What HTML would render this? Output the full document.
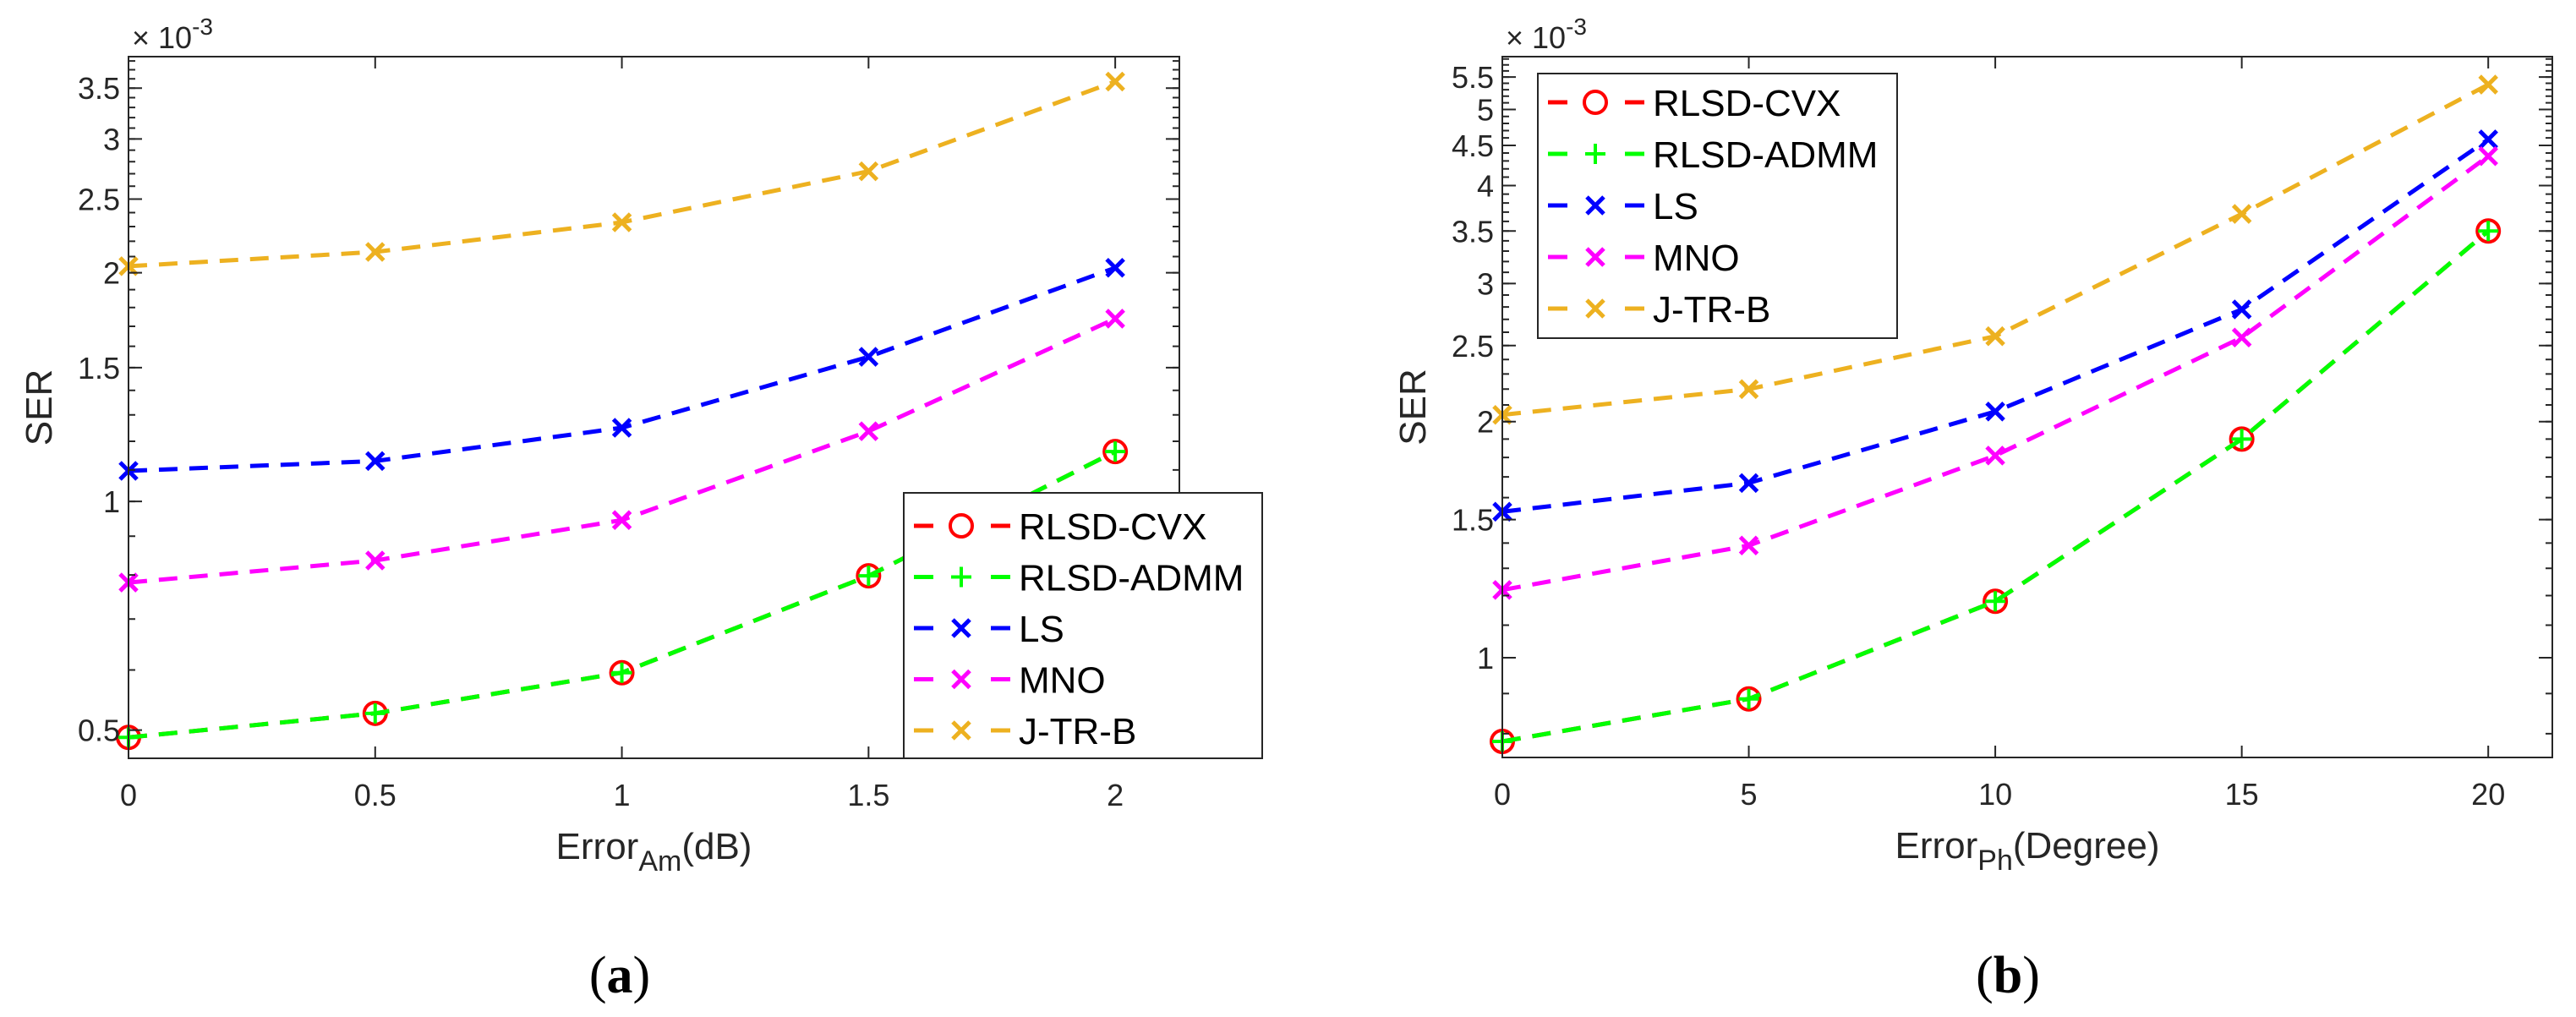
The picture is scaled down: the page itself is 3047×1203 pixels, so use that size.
<!DOCTYPE html>
<html><head><meta charset="utf-8"><style>
html,body{margin:0;padding:0;background:#fff;}
svg{display:block;font-family:"Liberation Sans",Arial,sans-serif;}
</style></head><body>
<svg id="fig" width="3047" height="1203" viewBox="0 0 3047 1203" xmlns="http://www.w3.org/2000/svg"></svg>
<script>
const seriesNames = ["RLSD-CVX","RLSD-ADMM","LS","MNO","J-TR-B"];
const xA = [0,0.5,1,1.5,2];
const cvxA = [0.489,0.526,0.595,0.798,1.163];
const admmA = [0.489,0.526,0.595,0.798,1.163];
const lsA = [1.097,1.13,1.25,1.55,2.03];
const mnoA = [0.782,0.836,0.945,1.237,1.74];
const jtrA = [2.04,2.13,2.33,2.72,3.57];
const xB = [0,5,10,15,20];
const cvxB = [0.782,0.886,1.18,1.90,3.50];
const admmB = [0.782,0.886,1.18,1.90,3.50];
const lsB = [1.535,1.67,2.06,2.78,4.58];
const mnoB = [1.22,1.39,1.81,2.56,4.36];
const jtrB = [2.04,2.20,2.57,3.68,5.38];
const xTicksA = [0,0.5,1,1.5,2];
const xTickLabelsA = ["0","0.5","1","1.5","2"];
const yTicksA = [0.5,1,1.5,2,2.5,3,3.5];
const yTickLabelsA = ["0.5","1","1.5","2","2.5","3","3.5"];
const xTicksB = [0,5,10,15,20];
const xTickLabelsB = ["0","5","10","15","20"];
const yTicksB = [1,1.5,2,2.5,3,3.5,4,4.5,5,5.5];
const yTickLabelsB = ["1","1.5","2","2.5","3","3.5","4","4.5","5","5.5"];

const NS="http://www.w3.org/2000/svg";
const svg=document.getElementById('fig');
function mk(tag,attrs,parent){const e=document.createElementNS(NS,tag);for(const k in attrs)e.setAttribute(k,attrs[k]);(parent||svg).appendChild(e);return e;}
const colors=["#FF0000","#00FF00","#0000FF","#FF00FF","#EDB120"];
const markers=["o","+","x","x","x"];
const AX="#262626";

function marker(g,type,x,y,c){
  if(type==="o"){const m=mk('circle',{cx:x,cy:y,r:13,fill:'none',stroke:c,'stroke-width':4},g);}
  else if(type==="+"){const m=mk('path',{d:`M${x-12},${y}H${x+12}M${x},${y-12}V${y+12}`,stroke:c,'stroke-width':4,fill:'none'},g);}
  else {const m=mk('path',{d:`M${x-10},${y-10}L${x+10},${y+10}M${x-10},${y+10}L${x+10},${y-10}`,stroke:c,'stroke-width':5,fill:'none'},g);}
}

function panel(cfg){
  const {L,R,T,B,xmin,xmax,ymin,ymax,xt,xtl,yt,ytl,series,xs,id,xlabel,sub,cap,leg}=cfg;
  const X=v=>L+(v-xmin)/(xmax-xmin)*(R-L);
  const lmin=Math.log10(ymin),lmax=Math.log10(ymax);
  const Y=v=>B-(Math.log10(v)-lmin)/(lmax-lmin)*(B-T);
  const g=mk('g',{});
  
  
  series.forEach((s,i)=>{
    const sg=mk('g',{},g);
    
    
    const d=s.map((v,j)=>(j?'L':'M')+X(xs[j]).toFixed(1)+','+Y(v).toFixed(1)).join('');
    const p=mk('path',{d:d,fill:'none',stroke:colors[i],'stroke-width':5,'stroke-dasharray':'22 14'},sg);
    
    
    s.forEach((v,j)=>marker(sg,markers[i],X(xs[j]),Y(v),colors[i]));
  });
  const box=mk('rect',{x:L,y:T,width:R-L,height:B-T,fill:'none',stroke:AX,'stroke-width':2},g);
  
  
  xt.forEach((v,i)=>{
    const x=X(v);
    mk('path',{d:`M${x},${B}v-14M${x},${T}v14`,stroke:AX,'stroke-width':2},g);
    const t=mk('text',{x:x,y:B+56,'font-size':36,fill:AX,'text-anchor':'middle'},g);
    t.textContent=xtl[i];
    
    
  });
  for(let k=Math.ceil(ymin*10);k<=Math.floor(ymax*10);k++){
    const v=k/10,y=Y(v);
    mk('path',{d:`M${L},${y}h8M${R},${y}h-8`,stroke:AX,'stroke-width':2},g);
  }
  yt.forEach((v,i)=>{
    const y=Y(v);
    mk('path',{d:`M${L},${y}h16M${R},${y}h-16`,stroke:AX,'stroke-width':2},g);
    const t=mk('text',{x:L-10,y:y+13,'font-size':36,fill:AX,'text-anchor':'end'},g);
    t.textContent=ytl[i];
    
    
  });
  const ex=mk('text',{x:L+4,y:T-10,'font-size':36,fill:AX},g);
  ex.innerHTML='× 10<tspan dy="-16" font-size="28">-3</tspan>';
  
  
  const yl=mk('text',{x:0,y:0,'font-size':44,fill:AX,'text-anchor':'middle',transform:`translate(${L-91},${(T+B)/2}) rotate(-90)`},g);
  yl.textContent='SER';
  
  
  const xl=mk('text',{x:(L+R)/2,y:B+119,'font-size':44,fill:AX,'text-anchor':'middle'},g);
  xl.innerHTML='Error<tspan dy="14" font-size="34">'+sub+'</tspan><tspan dy="-14">'+xlabel+'</tspan>';
  
  
  const c=mk('text',{x:cap,y:1174,'font-size':62,fill:'#000','text-anchor':'middle','font-family':'Liberation Serif,serif'},g);
  c.innerHTML='(<tspan font-weight="bold">'+(id==='a'?'a':'b')+'</tspan>)';
  
  
  const lg=mk('g',{},g);
  
  
  const lb=mk('rect',{x:leg.x,y:leg.y,width:leg.w,height:leg.h,fill:'#fff',stroke:AX,'stroke-width':2},lg);
  
  
  seriesNames.forEach((n,i)=>{
    const y=leg.row0+i*leg.dy;
    const eg=mk('g',{},lg);
    
    
    mk('path',{d:`M${leg.x+12},${y}h23M${leg.x+103},${y}h23`,stroke:colors[i],'stroke-width':5},eg);
    marker(eg,markers[i],leg.x+68,y,colors[i]);
    const t=mk('text',{x:leg.x+136,y:y+16,'font-size':44,fill:'#000'},eg);
    t.textContent=n;
  });
}

panel({L:152,R:1395,T:67,B:897,xmin:0,xmax:2.13,ymin:0.459,ymax:3.85,xt:xTicksA,xtl:xTickLabelsA,yt:yTicksA,ytl:yTickLabelsA,
  series:[cvxA,admmA,lsA,mnoA,jtrA],xs:xA,id:'a',xlabel:'(dB)',sub:'Am',cap:733,
  leg:{x:1069,y:583,w:424,h:314,row0:622,dy:60.5}});
panel({L:1777,R:3019,T:67,B:896,xmin:0,xmax:21.3,ymin:0.746,ymax:5.84,xt:xTicksB,xtl:xTickLabelsB,yt:yTicksB,ytl:yTickLabelsB,
  series:[cvxB,admmB,lsB,mnoB,jtrB],xs:xB,id:'b',xlabel:'(Degree)',sub:'Ph',cap:2375,
  leg:{x:1819,y:87,w:425,h:313,row0:121,dy:61}});
</script>
</body></html>
